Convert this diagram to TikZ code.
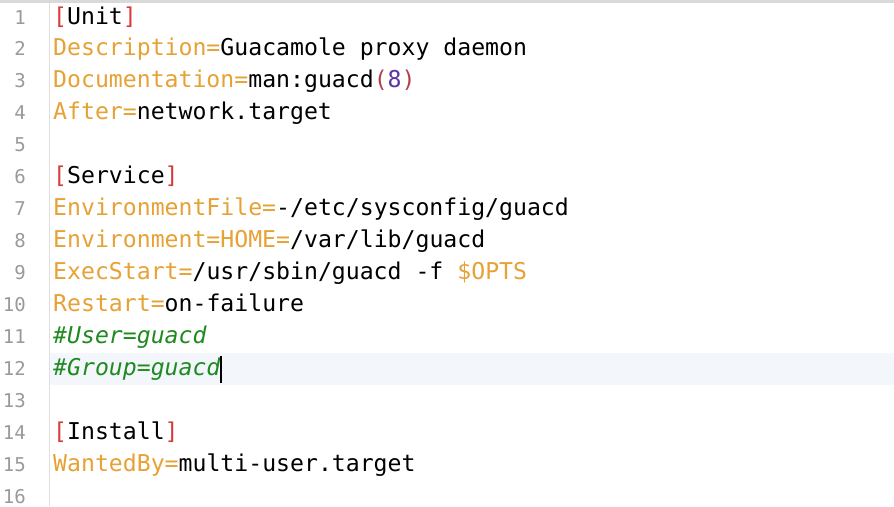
\documentclass[tikz,border=0pt]{standalone}
\usepackage{fontspec}
\setmonofont{DejaVu Sans Mono}
\usepackage{tikz}
\usetikzlibrary{positioning}
\definecolor{keycol}{HTML}{E6A235}
\definecolor{brcol}{HTML}{D93A3A}
\definecolor{parcol}{HTML}{B0404A}
\definecolor{numcol}{HTML}{5A34A0}
\definecolor{comcol}{HTML}{1F8A1F}
\definecolor{gutcol}{HTML}{9A9A9A}
\definecolor{hlcol}{HTML}{F3F7FB}
\newcommand{\kw}[1]{\textcolor{keycol}{#1}}
\newcommand{\br}[1]{\textcolor{brcol}{#1}}

\begin{document}
\begin{tikzpicture}[x=1pt, y=-1pt,
            lnum/.style={anchor=base east, inner sep=0pt, text=gutcol, font=\ttfamily\fontsize{19}{19}\selectfont},
            code/.style={anchor=base west, inner sep=0pt, font=\ttfamily\fontsize{23.15}{32}\selectfont}
        ]
        \useasboundingbox (0,0) rectangle (894,506);
        \fill[white] (0,0) rectangle (894,506);
        % top strip and current line
        \fill[gray!30] (0,0) rectangle (894,3);
        \fill[hlcol] (50,353) rectangle (894,385);
        \draw[gray!25, line width=1pt] (49.5,3) -- (49.5,506);
        % line numbers
        \foreach \n in {1,...,16}
            \node[lnum] (ln\n) at (26,{24+(\n-1)*31.95}) {\n};
        % code lines
        \node[code] (c1)  at (53,24)    {\br{[}Unit\br{]}};
        \node[code] (c2)  at (53,55.95) {\kw{Description=}Guacamole proxy daemon};
        \node[code] (c3)  at (53,87.9)  {\kw{Documentation=}man:guacd\textcolor{parcol}{(}\textcolor{numcol}{8}\textcolor{parcol}{)}};
        \node[code] (c4)  at (53,119.85){\kw{After=}network.target};
        \node[code] (c6)  at (53,183.75){\br{[}Service\br{]}};
        \node[code] (c7)  at (53,215.7) {\kw{EnvironmentFile=}-/etc/sysconfig/guacd};
        \node[code] (c8)  at (53,247.65){\kw{Environment=HOME=}/var/lib/guacd};
        \node[code] (c9)  at (53,279.6) {\kw{ExecStart=}/usr/sbin/guacd -f \kw{\$OPTS}};
        \node[code] (c10) at (53,311.55){\kw{Restart=}on-failure};
        \node[code] (c11) at (53,343.5) {\textcolor{comcol}{\itshape\#User=guacd}};
        \node[code] (c12) at (53,375.45){\textcolor{comcol}{\itshape\#Group=guacd}};
        \node[code] (c14) at (53,439.35){\br{[}Install\br{]}};
        \node[code] (c15) at (53,471.3) {\kw{WantedBy=}multi-user.target};
        % caret
        \coordinate (caret) at (c12.base east);
        \draw[black, line width=2pt] ([yshift=19pt]caret) -- ([yshift=-8pt]caret);
\end{tikzpicture}
\end{document}
